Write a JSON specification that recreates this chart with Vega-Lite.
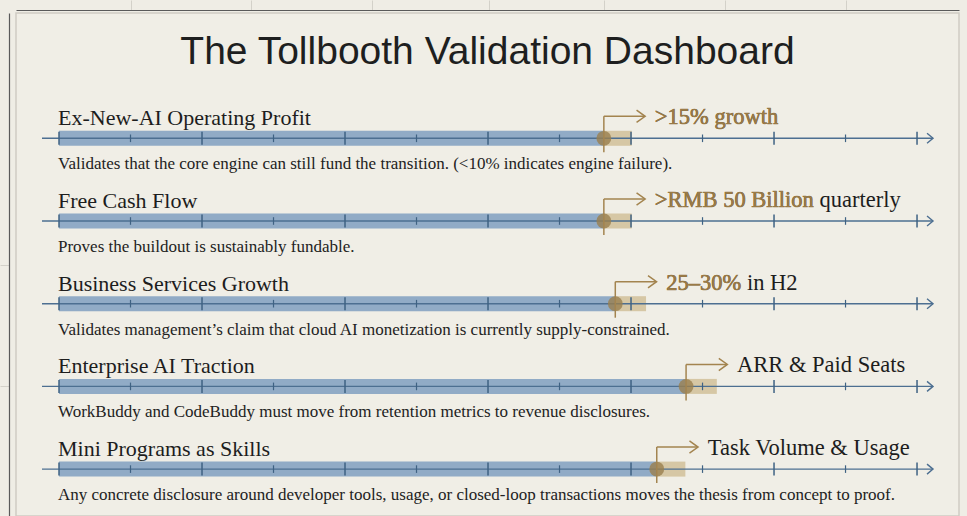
{
  "$schema": "https://vega.github.io/schema/vega-lite/v6.json",
  "width": 943,
  "height": 503,
  "autosize": "none",
  "padding": {"left": 16, "top": 13, "right": 8, "bottom": 0},
  "background": "#efede5",
  "title": {
    "text": "The Tollbooth Validation Dashboard",
    "font": "Liberation Sans",
    "fontSize": 39,
    "fontWeight": "normal",
    "color": "#1e1f1f",
    "anchor": "middle",
    "baseline": "alphabetic",
    "offset": -103
  },
  "datasets": {
    "metrics": [
      {"row": 1, "metric": "Ex-New-AI Operating Profit", "start": 0, "end": 12, "progress": 7.62, "target": 8.01, "label": ">15% growth", "hl": ">15% growth", "desc": "Validates that the core engine can still fund the transition. (<10% indicates engine failure)."},
      {"row": 2, "metric": "Free Cash Flow", "start": 0, "end": 12, "progress": 7.62, "target": 8.01, "label": ">RMB 50 Billion quarterly", "hl": ">RMB 50 Billion", "desc": "Proves the buildout is sustainably fundable."},
      {"row": 3, "metric": "Business Services Growth", "start": 0, "end": 12, "progress": 7.78, "target": 8.21, "label": "25–30% in H2", "hl": "25–30%", "desc": "Validates management’s claim that cloud AI monetization is currently supply-constrained."},
      {"row": 4, "metric": "Enterprise AI Traction", "start": 0, "end": 12, "progress": 8.77, "target": 9.2, "label": "ARR & Paid Seats", "hl": "", "desc": "WorkBuddy and CodeBuddy must move from retention metrics to revenue disclosures."},
      {"row": 5, "metric": "Mini Programs as Skills", "start": 0, "end": 12, "progress": 8.36, "target": 8.76, "label": "Task Volume & Usage", "hl": "", "desc": "Any concrete disclosure around developer tools, usage, or closed-loop transactions moves the thesis from concept to proof."}
    ],
    "ticks": [
      {"t": 0, "major": 1, "rows": [1, 2, 3, 4, 5]},
      {"t": 1, "major": 0, "rows": [1, 2, 3, 4, 5]},
      {"t": 2, "major": 1, "rows": [1, 2, 3, 4, 5]},
      {"t": 3, "major": 0, "rows": [1, 2, 3, 4, 5]},
      {"t": 4, "major": 1, "rows": [1, 2, 3, 4, 5]},
      {"t": 5, "major": 0, "rows": [1, 2, 3, 4, 5]},
      {"t": 6, "major": 1, "rows": [1, 2, 3, 4, 5]},
      {"t": 7, "major": 0, "rows": [1, 2, 3, 4, 5]},
      {"t": 8, "major": 1, "rows": [1, 2, 3, 4, 5]},
      {"t": 9, "major": 0, "rows": [1, 2, 3, 4, 5]},
      {"t": 10, "major": 1, "rows": [1, 2, 3, 4, 5]},
      {"t": 11, "major": 0, "rows": [1, 2, 3, 4, 5]},
      {"t": 12, "major": 1, "rows": [1, 2, 3, 4, 5]}
    ]
  },
  "data": {"name": "metrics"},
  "encoding": {
    "y": {
      "field": "row",
      "type": "quantitative",
      "scale": {"domain": [-0.515, 5.567], "reverse": true, "nice": false, "zero": false},
      "axis": {
        "orient": "left",
        "offset": 7,
        "domainColor": "#5a5a5a",
        "domainWidth": 1.2,
        "values": [2.532, 3.996],
        "tickColor": "#d3d1c9",
        "tickSize": 9,
        "labels": false,
        "title": null,
        "grid": false
      }
    }
  },
  "resolve": {"axis": {"x": "independent"}},
  "layer": [
    {
      "mark": {"type": "rect", "color": "#809fbf", "opacity": 0.85, "yOffset": -7.5, "y2Offset": 7.5},
      "encoding": {
        "x": {
          "field": "start",
          "type": "quantitative",
          "scale": {"domain": [-0.6014, 12.587], "nice": false, "zero": false},
          "axis": {
            "orient": "top",
            "offset": 3,
            "domainColor": "#5a5a5a",
            "domainWidth": 1.2,
            "values": [1.007, 2.685, 4.378, 6.014, 7.622, 9.315, 11.007],
            "tickColor": "#d3d1c9",
            "tickSize": 10,
            "labels": false,
            "title": null,
            "grid": false
          }
        },
        "x2": {"field": "progress"},
        "y2": {"field": "row"}
      }
    },
    {
      "mark": {"type": "rect", "color": "#cdb98f", "opacity": 0.75, "yOffset": -7.5, "y2Offset": 7.5},
      "encoding": {
        "x": {"field": "progress", "type": "quantitative", "axis": null},
        "x2": {"field": "target"},
        "y2": {"field": "row"}
      }
    },
    {
      "mark": {"type": "rule", "color": "#4d6f91", "strokeWidth": 1.4, "xOffset": -17, "x2Offset": 16},
      "encoding": {
        "x": {"field": "start", "type": "quantitative", "axis": null},
        "x2": {"field": "end"}
      }
    },
    {
      "data": {"name": "ticks"},
      "transform": [{"flatten": ["rows"], "as": ["row"]}, {"filter": "datum.major == 1"}],
      "mark": {"type": "rule", "color": "#3f6283", "strokeWidth": 1.5, "yOffset": -6.5, "y2Offset": 6.5},
      "encoding": {
        "x": {"field": "t", "type": "quantitative", "axis": null},
        "y2": {"field": "row"}
      }
    },
    {
      "data": {"name": "ticks"},
      "transform": [{"flatten": ["rows"], "as": ["row"]}, {"filter": "datum.major == 0"}],
      "mark": {"type": "rule", "color": "#3f6283", "strokeWidth": 1.2, "yOffset": -3.8, "y2Offset": 3.8},
      "encoding": {
        "x": {"field": "t", "type": "quantitative", "axis": null},
        "y2": {"field": "row"}
      }
    },
    {
      "mark": {"type": "point", "shape": "M-0.6,-1L0.6,0L-0.6,1", "size": 100, "filled": false, "color": "#4d6f91", "strokeWidth": 1.4, "opacity": 1, "xOffset": 13},
      "encoding": {
        "x": {"field": "end", "type": "quantitative", "axis": null}
      }
    },
    {
      "mark": {"type": "point", "shape": "circle", "size": 220, "filled": true, "color": "#9a7f4f", "opacity": 0.8},
      "encoding": {
        "x": {"field": "progress", "type": "quantitative", "axis": null}
      }
    },
    {
      "mark": {"type": "rule", "color": "#a3844f", "strokeWidth": 1.5, "yOffset": -22, "y2Offset": 14},
      "encoding": {
        "x": {"field": "progress", "type": "quantitative", "axis": null},
        "y2": {"field": "row"}
      }
    },
    {
      "mark": {"type": "rule", "color": "#a3844f", "strokeWidth": 1.5, "yOffset": -22, "x2Offset": 41},
      "encoding": {
        "x": {"field": "progress", "type": "quantitative", "axis": null},
        "x2": {"field": "progress"}
      }
    },
    {
      "mark": {"type": "point", "shape": "M-0.7,-1L0.7,0L-0.7,1", "size": 150, "filled": false, "color": "#a3844f", "strokeWidth": 1.5, "opacity": 1, "xOffset": 37, "yOffset": -22},
      "encoding": {
        "x": {"field": "progress", "type": "quantitative", "axis": null}
      }
    },
    {
      "mark": {"type": "text", "align": "left", "baseline": "alphabetic", "dx": 51, "dy": -14, "font": "Liberation Serif", "fontSize": 22.5, "color": "#1d1d1d"},
      "encoding": {
        "x": {"field": "progress", "type": "quantitative", "axis": null},
        "text": {"field": "label"}
      }
    },
    {
      "mark": {"type": "text", "align": "left", "baseline": "alphabetic", "dx": 51, "dy": -14, "font": "Liberation Serif", "fontSize": 22.5, "color": "#9a7b47", "stroke": "#9a7b47", "strokeWidth": 0.5},
      "encoding": {
        "x": {"field": "progress", "type": "quantitative", "axis": null},
        "text": {"field": "hl"}
      }
    },
    {
      "mark": {"type": "text", "align": "left", "baseline": "alphabetic", "dx": -1, "dy": -13, "font": "Liberation Serif", "fontSize": 22, "color": "#1d1d1d"},
      "encoding": {
        "x": {"field": "start", "type": "quantitative", "axis": null},
        "text": {"field": "metric"}
      }
    },
    {
      "mark": {"type": "text", "align": "left", "baseline": "alphabetic", "dx": -1, "dy": 31, "font": "Liberation Serif", "fontSize": 17, "color": "#222222"},
      "encoding": {
        "x": {"field": "start", "type": "quantitative", "axis": null},
        "text": {"field": "desc"}
      }
    }
  ],
  "config": {"view": {"stroke": "#cfccc3", "strokeWidth": 1.5, "fill": "#f0eee6"}}
}
